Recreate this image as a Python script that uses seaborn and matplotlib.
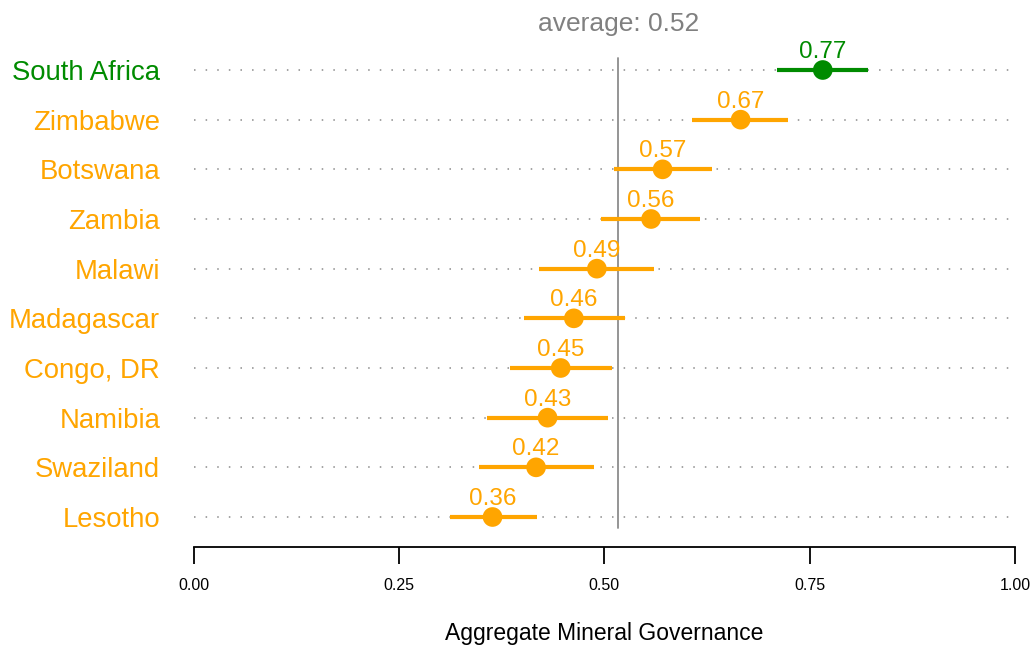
import matplotlib
matplotlib.use("Agg")
import matplotlib.pyplot as plt
import seaborn as sns
import pandas as pd

# Aggregate Mineral Governance scores with their confidence intervals
countries = ["South Africa", "Zimbabwe", "Botswana", "Zambia", "Malawi",
             "Madagascar", "Congo, DR", "Namibia", "Swaziland", "Lesotho"]
scores = [0.766, 0.666, 0.571, 0.557, 0.491, 0.463, 0.447, 0.431, 0.417, 0.364]
lower = [0.710, 0.607, 0.512, 0.496, 0.421, 0.402, 0.385, 0.357, 0.348, 0.312]
upper = [0.821, 0.724, 0.631, 0.617, 0.561, 0.525, 0.510, 0.505, 0.488, 0.418]
groups = ["top", "other", "other", "other", "other",
          "other", "other", "other", "other", "other"]
xticks = [0.00, 0.25, 0.50, 0.75, 1.00]

palette = {"top": "#008B00", "other": "#FFA500"}

df = pd.DataFrame({"country": countries, "score": scores,
                   "lower": lower, "upper": upper, "group": groups})
average = df["score"].mean()

sns.set_style("white")
plt.rcParams["font.family"] = ["Liberation Sans", "DejaVu Sans"]

fig = plt.figure(figsize=(10.35, 6.47), dpi=100)
W, H = 1035, 647
ax = fig.add_axes([193.5 / W, (H - 547) / H, 821.5 / W, (547 - 40) / H])

# dotted guide line for every row
ax.hlines(df["country"], 0, 1, colors="#8a8a8a", linewidth=1.1,
          linestyles=(0, (1, 6.6)), zorder=1)

# confidence intervals
ax.hlines(df["country"], df["lower"], df["upper"],
          colors=[palette[g] for g in df["group"]], linewidth=3.0,
          capstyle="butt", zorder=3)

# point estimates
sns.scatterplot(data=df, x="score", y="country", hue="group",
                palette=palette, s=200, edgecolor="none", legend=False,
                ax=ax, zorder=4)

# value labels above points
for c, v, g in zip(df["country"], df["score"], df["group"]):
    ax.annotate(f"{v:.2f}", (v, c), xytext=(0, 8.6), textcoords="offset points",
                ha="center", va="baseline", fontsize=17.5, color=palette[g],
                zorder=5)

n = len(countries)
ax.set_xlim(0, 1)
ax.set_ylim(n - 1 + 30 / 49.67, -30 / 49.67)

# average reference line
ax.plot([average, average], [-12 / 49.67, n - 1 + 11 / 49.67],
        color="#8c8c8c", linewidth=1.3, zorder=2, clip_on=False)
ax.text(average, -46 / 49.67, f"average: {average:.2f}", ha="center",
        va="center", fontsize=19, color="#808080", clip_on=False)

# axes styling
for side in ["top", "right", "left"]:
    ax.spines[side].set_visible(False)
ax.spines["bottom"].set_color("black")
ax.spines["bottom"].set_linewidth(1.3)
ax.set_xticks(xticks)
ax.set_xticklabels([f"{t:.2f}" for t in xticks])
ax.tick_params(axis="x", direction="out", length=12, width=1.3,
               pad=10, labelsize=11.5, colors="black", bottom=True)
ax.tick_params(axis="y", length=0, pad=24, labelsize=19.8)
for lbl, g in zip(ax.get_yticklabels(), df["group"]):
    lbl.set_color(palette[g])

ax.set_xlabel("Aggregate Mineral Governance", fontsize=16.5, labelpad=21,
              color="black")
ax.set_ylabel("")
ax.grid(False)

fig.savefig("out.png", dpi=100)
